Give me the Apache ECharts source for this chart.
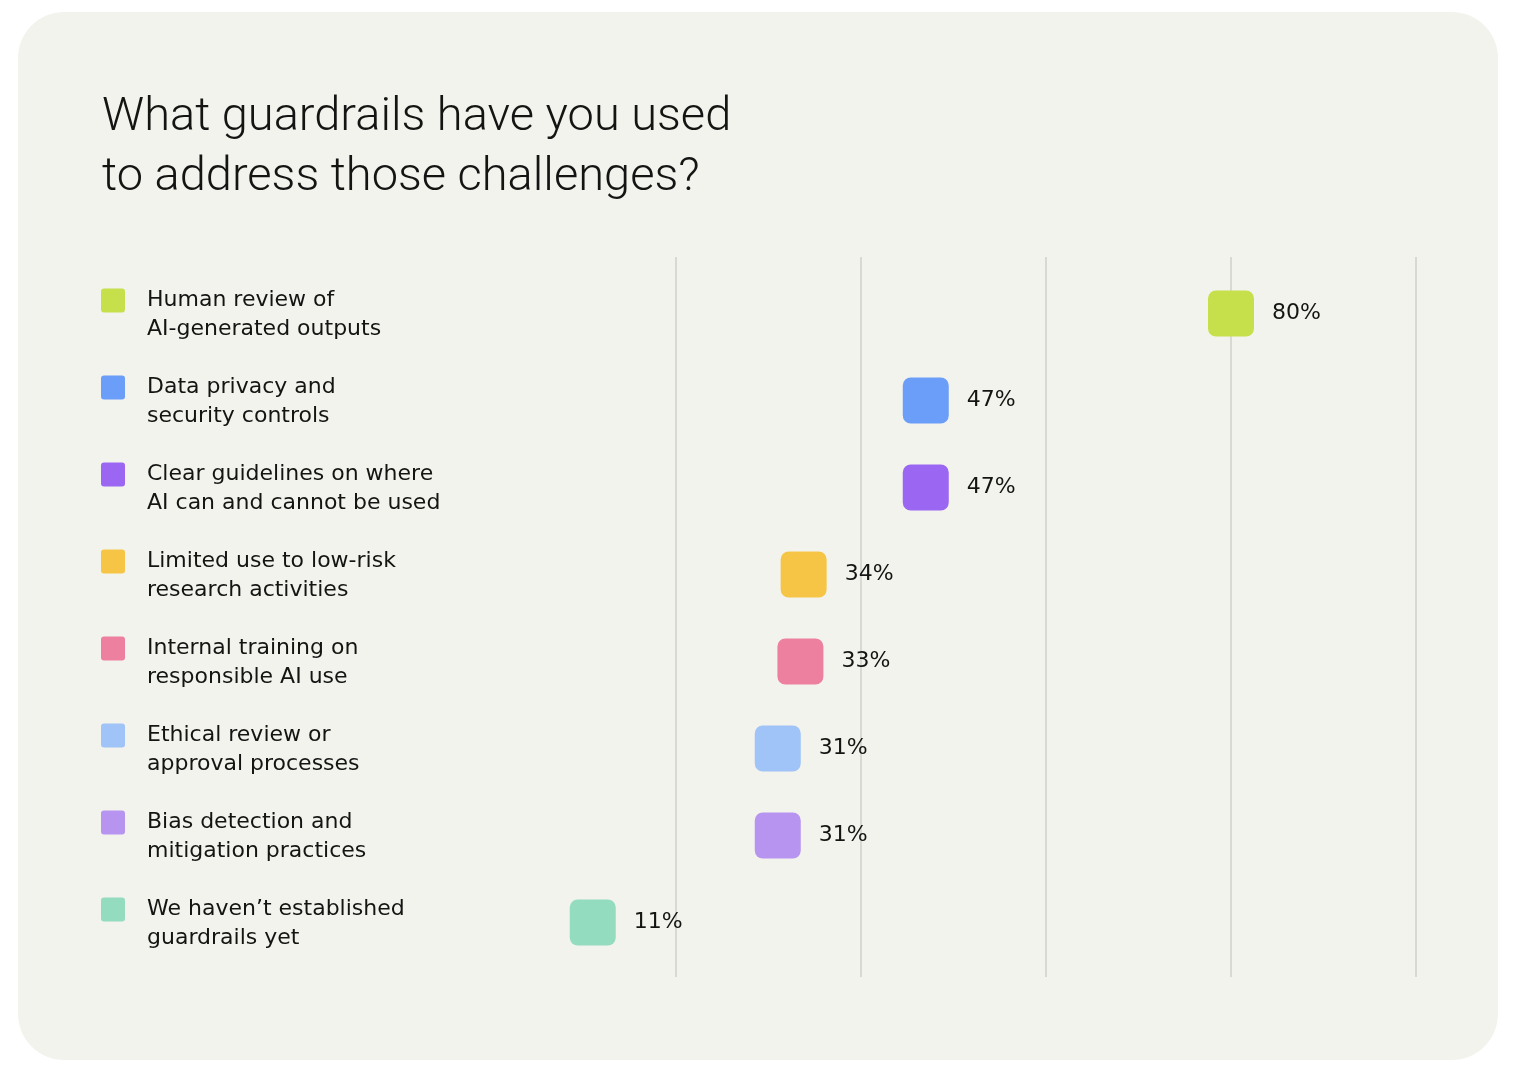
<!DOCTYPE html>
<html>
<head>
<meta charset="utf-8">
<script src="https://cdn.jsdelivr.net/npm/echarts@6/dist/echarts.min.js"></script>
<style>
  html, body { margin: 0; padding: 0; background: #ffffff; }
  .card {
    position: absolute; left: 18px; top: 12px; width: 1480px; height: 1048px;
    background: #f3f3ee; border-radius: 46px;
  }
  #chart { position: absolute; left: 0; top: 0; width: 1520px; height: 1082px; }
</style>
</head>
<body>
<div class="card"></div>
<div id="chart"></div>
<script>
const categories = [
  'Human review of\nAI-generated outputs',
  'Data privacy and\nsecurity controls',
  'Clear guidelines on where\nAI can and cannot be used',
  'Limited use to low-risk\nresearch activities',
  'Internal training on\nresponsible AI use',
  'Ethical review or\napproval processes',
  'Bias detection and\nmitigation practices',
  'We haven\u2019t established\nguardrails yet'
];
// shares in percent (labels are rounded)
const values = [80, 47, 47, 33.8, 33.45, 31, 31, 11];
const colors = ['#c5e04b', '#6b9ef8', '#9a66f2', '#f6c546', '#ec809e', '#a0c4f8', '#b794ef', '#94dcc0'];
const axisTicks = [0, 20, 40, 60, 80, 100];

const chart = echarts.init(document.getElementById('chart'), null, { renderer: 'canvas' });

const gridLeft = 491;
const labelFont = 'DejaVu Sans';

// rich styles for the coloured squares in the left labels
const rich = {
  t: { fontFamily: labelFont, fontSize: 22, color: '#141413', lineHeight: 29, padding: [0, 0, 0, 22] },
  sp: { width: 24, height: 24, lineHeight: 29 }
};
colors.forEach((c, i) => {
  rich['sq' + i] = { width: 24, height: 24, backgroundColor: c, borderRadius: 3, lineHeight: 29 };
});

chart.setOption({
  backgroundColor: 'transparent',
  title: {
    text: 'What guardrails have you used\nto address those challenges?',
    left: 97,
    top: 83,
    textStyle: {
      fontFamily: 'Roboto, sans-serif',
      fontWeight: 300,
      fontSize: 47,
      lineHeight: 60,
      color: '#141413'
    }
  },
  grid: [
    { left: gridLeft, right: 104, top: 257, bottom: 105 },
    { left: gridLeft, right: 104, top: 270, height: 696 }
  ],
  xAxis: [
    {
      gridIndex: 0, type: 'value',
      min: axisTicks[0], max: axisTicks[axisTicks.length - 1], interval: 20,
      axisLine: { show: false }, axisTick: { show: false }, axisLabel: { show: false },
      splitLine: { show: true, showMinLine: false, lineStyle: { color: '#d0d0cb', width: 1.5 } }
    },
    {
      gridIndex: 1, type: 'value', min: 0, max: 100, show: false
    }
  ],
  yAxis: [
    { gridIndex: 0, type: 'value', show: false },
    {
      gridIndex: 1, type: 'category', data: categories, inverse: true,
      axisLine: { show: false }, axisTick: { show: false }, splitLine: { show: false },
      axisLabel: {
        align: 'left',
        margin: gridLeft - 101,
        padding: [3, 0, 0, 0],
        formatter: (val, idx) => {
          const lines = val.split('\n');
          return '{sq' + idx + '|}{t|' + lines[0] + '}\n{sp|}{t|' + lines[1] + '}';
        },
        rich: rich
      }
    }
  ],
  series: [
    {
      type: 'scatter',
      xAxisIndex: 1,
      yAxisIndex: 1,
      symbol: 'path://M8,0H38A8,8,0,0,1,46,8V38A8,8,0,0,1,38,46H8A8,8,0,0,1,0,38V8A8,8,0,0,1,8,0Z',
      symbolSize: 46,
      z: 5,
      itemStyle: { opacity: 1 },
      data: values.map((v, i) => ({ value: [v, i], itemStyle: { color: colors[i], opacity: 1 } })),
      label: {
        show: true,
        position: 'right',
        distance: 18,
        formatter: p => Math.round(p.value[0]) + '%',
        fontFamily: labelFont,
        fontSize: 22,
        color: '#141413'
      },
      emphasis: { disabled: true }
    }
  ]
});
</script>
</body>
</html>
